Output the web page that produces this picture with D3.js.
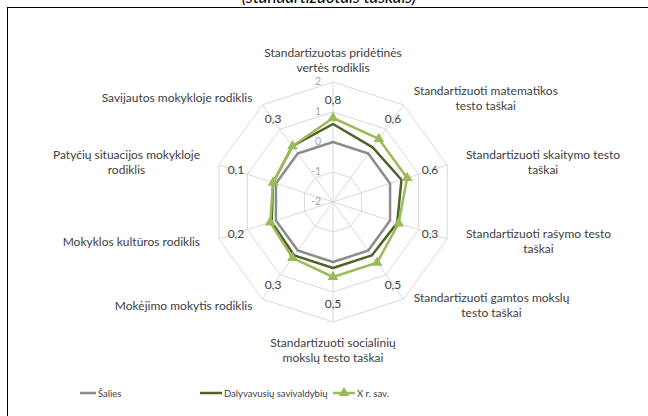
<!DOCTYPE html>
<html lang="lt">
<head>
<meta charset="UTF-8">
<title>Radar</title>
<script src="https://cdn.jsdelivr.net/npm/d3@7"></script>
<style>
    body { margin: 0; background: #fff; }
    svg { display: block; font-family: Lato, "Open Sans", sans-serif; }
    .grid { fill: none; stroke: #d9d9d9; stroke-width: 1; }
    .cat { fill: #404040; font-size: 12px; }
    .tick { fill: #a6a6a6; font-size: 10.5px; }
    .val { fill: #404040; font-size: 12px; }
    .leg { fill: #404040; font-size: 9.5px; }
</style>
</head>
<body>
<svg id="chart" width="648" height="416"></svg>
<script>
    let categories = [
        ["Standartizuotas pridėtinės", "vertės rodiklis"],
        ["Standartizuoti matematikos", "testo taškai"],
        ["Standartizuoti skaitymo testo", "taškai"],
        ["Standartizuoti rašymo testo", "taškai"],
        ["Standartizuoti gamtos mokslų", "testo taškai"],
        ["Standartizuoti socialinių", "mokslų testo taškai"],
        ["Mokėjimo mokytis rodiklis"],
        ["Mokyklos kultūros rodiklis"],
        ["Patyčių situacijos mokykloje", "rodiklis"],
        ["Savijautos mokykloje rodiklis"]
    ]
    let salies = [0, 0, 0, 0, 0, 0, 0, 0, 0, 0]
    let dalyvavusiu = [0.6, 0.25, 0.4, 0.25, 0.2, 0.2, 0.2, 0.15, 0.1, 0.3]
    let xrsav = [0.8, 0.6, 0.6, 0.3, 0.5, 0.5, 0.3, 0.2, 0.1, 0.3]
    let ticks = [-2, -1, 0, 1, 2]
    let seriesNames = ["Šalies", "Dalyvavusių savivaldybių", "X r. sav."]
    let colors = ["#8c8c8c", "#4f6228", "#9bbb59"]

    let svg = d3.select("#chart")
    let cx = 333, cy = 202
    let r = d3.scaleLinear().domain([-2, 2]).range([0, 120])
    let ang = d3.scaleLinear().domain([0, categories.length]).range([0, 2 * Math.PI])
    let pt = (i, rad) => [cx + rad * Math.sin(ang(i)), cy - rad * Math.cos(ang(i))]
    let fmt = v => d3.format(".1f")(v).replace(".", ",")

    // title (cut off at the top) and chart border
    svg.append("text")
        .attr("x", 329).attr("y", 3)
        .attr("text-anchor", "middle")
        .style("font-size", "17px").style("font-style", "italic").style("fill", "#000")
        .text("(standartizuotais taškais)")
    svg.append("rect")
        .attr("x", 7.5).attr("y", 7.5).attr("width", 700).attr("height", 500)
        .attr("fill", "none").attr("stroke", "#000").attr("stroke-width", 1)

    // grid rings and spokes
    let idx = d3.range(categories.length)
    ticks.slice(1).forEach(t => {
        svg.append("polygon").attr("class", "grid")
            .attr("points", idx.map(i => pt(i, r(t)).join(",")).join(" "))
    })
    idx.forEach(i => {
        let p = pt(i, r(2))
        svg.append("line").attr("class", "grid")
            .attr("x1", cx).attr("y1", cy).attr("x2", p[0]).attr("y2", p[1])
    })
    ticks.forEach(t => {
        svg.append("text").attr("class", "tick")
            .attr("x", cx - 12).attr("y", cy - r(t) + 3)
            .attr("text-anchor", "end").text(t)
    })

    // category labels
    let lh = 15
    categories.forEach((lines, i) => {
        let a = ang(i), s = Math.sin(a), c = Math.cos(a)
        let v = pt(i, r(2))
        let g = svg.append("g")
        let tx = g.append("text").attr("class", "cat").attr("text-anchor", "middle")
        lines.forEach((l, k) => tx.append("tspan").attr("x", 0).attr("dy", k === 0 ? 0 : lh).text(l))
        let w = d3.max(tx.selectAll("tspan").nodes(), n => n.getComputedTextLength())
        let h = lh * (lines.length - 1)
        let x0, y0
        if (Math.abs(s) < 0.1) {
            x0 = v[0]
            y0 = c > 0 ? v[1] - 10 - h : v[1] + 25
        } else {
            let gap = 24 * Math.abs(s) - 4
            x0 = s > 0 ? v[0] + gap + w / 2 : v[0] - gap - w / 2
            y0 = v[1] - 8 * c - h / 2 + 4
        }
        g.attr("transform", `translate(${x0},${y0})`)
    })

    // series
    let line = d3.lineRadial()
        .angle((d, i) => ang(i))
        .radius(d => r(d))
        .curve(d3.curveLinearClosed)
    let allSeries = [salies, dalyvavusiu, xrsav]
    allSeries.forEach((s, k) => {
        svg.append("path")
            .attr("transform", `translate(${cx},${cy})`)
            .attr("d", line(s))
            .attr("fill", "none")
            .attr("stroke", colors[k])
            .attr("stroke-width", 2.5)
            .attr("stroke-linejoin", "round")
    })
    let tri = d3.symbol().type(d3.symbolTriangle).size(50)
    svg.selectAll(".mk").data(xrsav).enter().append("path")
        .attr("d", tri)
        .attr("transform", (d, i) => `translate(${pt(i, r(d)).join(",")})`)
        .attr("fill", colors[2])

    // data labels
    svg.selectAll(".val").data(xrsav).enter().append("text")
        .attr("class", "val")
        .attr("text-anchor", "middle")
        .attr("x", (d, i) => pt(i, 102)[0])
        .attr("y", (d, i) => pt(i, 102)[1] + 4)
        .text(d => fmt(d))

    // legend
    let legX = [80, 200, 333]
    let legLen = [16, 22, 22]
    seriesNames.forEach((n, k) => {
        let ly = 393
        svg.append("line")
            .attr("x1", legX[k]).attr("x2", legX[k] + legLen[k])
            .attr("y1", ly).attr("y2", ly)
            .attr("stroke", colors[k]).attr("stroke-width", 2.5)
        if (k === 2) {
            svg.append("path").attr("d", tri)
                .attr("transform", `translate(${legX[k] + 11},${ly})`)
                .attr("fill", colors[2])
        }
        svg.append("text").attr("class", "leg")
            .attr("x", legX[k] + legLen[k] + 2).attr("y", ly + 4)
            .text(n)
    })
</script>
</body>
</html>
